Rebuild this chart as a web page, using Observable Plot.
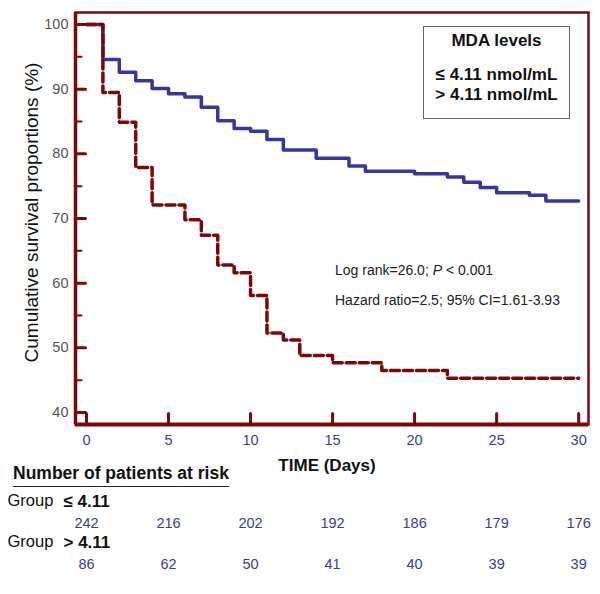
<!DOCTYPE html>
<html><head><meta charset="utf-8">
<script src="https://cdn.jsdelivr.net/npm/d3@7"></script>
<script src="https://cdn.jsdelivr.net/npm/@observablehq/plot@0.6"></script>
<style>
body{margin:0;background:#fff;font-family:"Liberation Sans",Arial,sans-serif;}
#wrap{position:relative;width:600px;height:594px;}
.ov{position:absolute;white-space:nowrap;color:#111;}
#legend{position:absolute;left:423px;top:26px;width:145px;height:91px;border:1px solid #666;background:#fff;}
#legend div{position:absolute;left:0;width:100%;text-align:center;font-weight:bold;font-size:17px;line-height:20px;color:#111;}
</style></head><body>
<div id="wrap"></div>
<script>
// Kaplan–Meier steps
const lowDays  = [0, 1, 2, 3, 4, 5, 6, 7, 8, 9, 10, 11, 12, 14, 16, 17, 20, 22, 23, 24, 25, 27, 28, 30];
const lowSurv  = [100, 94.6, 92.6, 91.3, 90.1, 89.3, 88.8, 87.2, 85.1, 83.9, 83.5, 82.2, 80.6, 79.3, 78.1, 77.3, 76.9, 76.4, 75.6, 74.8, 74.0, 73.6, 72.7, 72.7];
const highDays = [0, 1, 2, 3, 4, 6, 7, 8, 9, 10, 11, 12, 13, 15, 18, 22, 30];
const highSurv = [100, 89.5, 84.9, 77.9, 72.1, 69.8, 67.4, 62.8, 61.6, 58.1, 52.3, 51.2, 48.8, 47.7, 46.5, 45.3, 45.3];

// Numbers at risk
const riskDays = [0, 5, 10, 15, 20, 25, 30];
const riskLow  = [242, 216, 202, 192, 186, 179, 176];
const riskHigh = [86, 62, 50, 41, 40, 39, 39];

// Axis ticks
const xTicks  = [0, 5, 10, 15, 20, 25, 30];
const yMajor  = [40, 50, 60, 70, 80, 90, 100];
const yMinor  = [45, 55, 65, 75, 85, 95];
const xDomain = [-0.67, 30.6];
const yDomain = [38.15, 101.85];

const lowSeries  = lowDays.map((d, i) => ({day: d, surv: lowSurv[i]}));
const highSeries = highDays.map((d, i) => ({day: d, surv: highSurv[i]}));
const riskTable  = riskDays.map((d, i) => ({day: d, low: riskLow[i], high: riskHigh[i]}));

const maroon = "#7a0a0a";
const blue = "#35389a";
const numBlue = "#3c3c96";

const chart = Plot.plot({
  width: 600, height: 594,
  marginTop: 12, marginRight: 12, marginBottom: 170, marginLeft: 75,
  style: {fontFamily: "Liberation Sans, Arial, sans-serif", background: "white", overflow: "visible"},
  x: {domain: xDomain},
  y: {domain: yDomain},
  marks: [
    Plot.frame({stroke: maroon, strokeWidth: 2.5}),
    Plot.line(lowSeries, {x: "day", y: "surv", curve: "step-after", stroke: blue, strokeWidth: 3.5}),
    Plot.line(highSeries, {x: "day", y: "surv", curve: "step-after", stroke: maroon, strokeWidth: 3.5, strokeDasharray: "9,4"}),
    // inward tick marks
    Plot.vector(yMajor, {y: d => d, frameAnchor: "left", length: 10, rotate: 90, anchor: "start", shape: "spike", r: 0, stroke: maroon, strokeWidth: 3}),
    Plot.vector(yMinor, {y: d => d, frameAnchor: "left", length: 6, rotate: 90, anchor: "start", shape: "spike", r: 0, stroke: maroon, strokeWidth: 2}),
    Plot.vector(xTicks, {x: d => d, frameAnchor: "bottom", length: 11, rotate: 0, anchor: "start", shape: "spike", r: 0, stroke: maroon, strokeWidth: 3}),
    Plot.axisY({ticks: yMajor, tickSize: 0, tickPadding: 7, label: null, fill: "#555", fontSize: 14.5}),
    Plot.axisX({ticks: xTicks, tickSize: 0, tickPadding: 10, label: null, fill: numBlue, fontSize: 14.5}),
    Plot.ruleX([xDomain[0]], {stroke: maroon, strokeWidth: 3.5}),
    Plot.ruleY([yDomain[0]], {stroke: maroon, strokeWidth: 4}),
    Plot.text(["Cumulative survival proportions (%)"], {frameAnchor: "left", textAnchor: "middle", rotate: -90, dx: -44, dy: -6, fontSize: 19, fill: "#111"}),
    Plot.text(["TIME (Days)"], {frameAnchor: "bottom", dx: -5, dy: 46, fontSize: 17, fontWeight: "bold", fill: "#111"}),
    Plot.text(["Group"], {frameAnchor: "bottom-left", textAnchor: "start", dx: -68, dy: 81, fontSize: 16.5, fill: "#111"}),
    Plot.text(["≤ 4.11"], {frameAnchor: "bottom-left", textAnchor: "start", dx: -12, dy: 82, fontSize: 17, fontWeight: "bold", fill: "#111"}),
    Plot.text(["Group"], {frameAnchor: "bottom-left", textAnchor: "start", dx: -68, dy: 122, fontSize: 16.5, fill: "#111"}),
    Plot.text(["> 4.11"], {frameAnchor: "bottom-left", textAnchor: "start", dx: -12, dy: 123, fontSize: 17, fontWeight: "bold", fill: "#111"}),
    Plot.text(riskTable, {x: "day", text: "low", frameAnchor: "bottom", dy: 103, fontSize: 14.5, fill: numBlue}),
    Plot.text(riskTable, {x: "day", text: "high", frameAnchor: "bottom", dy: 144, fontSize: 14.5, fill: numBlue})
  ]
});

const wrap = document.getElementById("wrap");
wrap.appendChild(chart);

const legend = document.createElement("div");
legend.id = "legend";
legend.innerHTML = '<div style="top:4px">MDA levels</div><div style="top:38px">≤ 4.11 nmol/mL</div><div style="top:58px">&gt; 4.11 nmol/mL</div>';
wrap.appendChild(legend);

const s1 = document.createElement("div");
s1.className = "ov";
s1.style.cssText = "left:335px;top:262px;font-size:14px;line-height:16px;color:#222";
s1.innerHTML = "Log rank=26.0; <i>P</i> &lt; 0.001";
wrap.appendChild(s1);

const s2 = document.createElement("div");
s2.className = "ov";
s2.style.cssText = "left:335px;top:292px;font-size:14px;line-height:16px;color:#222";
s2.textContent = "Hazard ratio=2.5; 95% CI=1.61-3.93";
wrap.appendChild(s2);

const hdr = document.createElement("div");
hdr.className = "ov";
hdr.style.cssText = "left:13px;top:462px;font-size:17.5px;line-height:22px;font-weight:bold;padding-bottom:2px;border-bottom:1.5px solid #222";
hdr.textContent = "Number of patients at risk";
wrap.appendChild(hdr);
</script>
</body></html>
